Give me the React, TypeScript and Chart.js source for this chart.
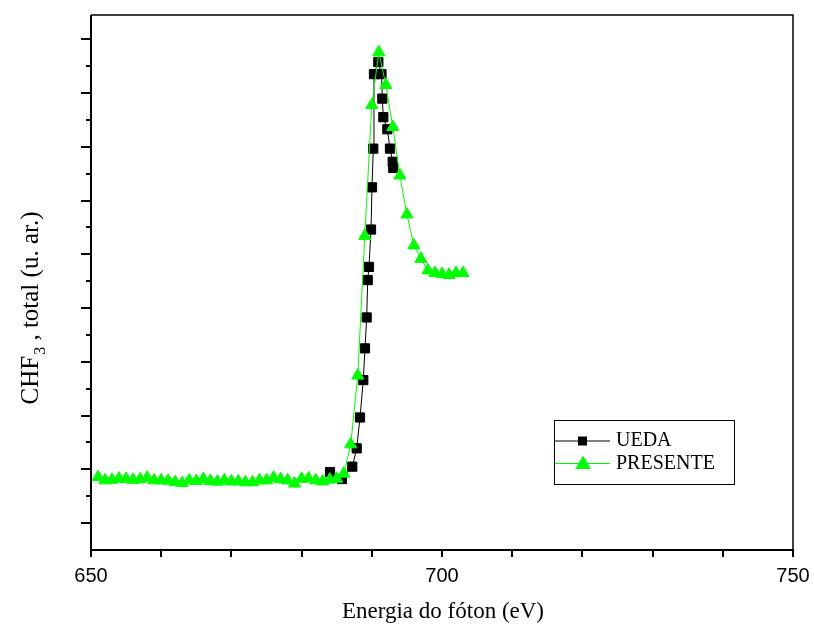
import { useEffect, useRef } from "react";
import { Chart, registerables } from "chart.js";

Chart.register(...registerables);

// UEDA reference spectrum (photon energy in eV, signal in arbitrary units)
const uedaEnergy = [
  684.05, 685.75, 687.22, 687.85, 688.32, 688.79, 689.03, 689.27, 689.42, 689.6, 689.89,
  690.03, 690.21, 690.31, 690.93, 691.38, 691.5, 691.64, 692.21, 692.59, 692.98, 693.06,
];
const uedaSignal = [
  2.9, 2.64, 3.1, 3.78, 4.93, 6.32, 7.5, 8.65, 10.04, 10.53, 11.92,
  13.49, 14.93, 17.7, 18.15, 17.7, 16.79, 16.1, 15.65, 14.93, 14.44, 14.21,
];

// Present work
const presenteEnergy = [
  651, 652, 653, 654, 655, 656, 657, 658, 659, 660,
  661, 662, 663, 664, 665, 666, 667, 668, 669, 670,
  671, 672, 673, 674, 675, 676, 677, 678, 679, 680,
  681, 682, 683, 684, 685, 686, 687, 688, 689, 690,
  691, 692, 693, 694, 695, 696, 697, 698, 699, 700,
  701, 702, 703,
];
const presenteSignal = [
  2.71, 2.59, 2.61, 2.66, 2.64, 2.61, 2.63, 2.69, 2.59, 2.59,
  2.58, 2.52, 2.49, 2.59, 2.57, 2.64, 2.57, 2.54, 2.59, 2.55,
  2.55, 2.52, 2.52, 2.59, 2.59, 2.69, 2.63, 2.59, 2.47, 2.65,
  2.66, 2.59, 2.55, 2.62, 2.65, 2.84, 3.93, 6.49, 11.68, 16.55,
  18.51, 17.3, 15.73, 13.93, 12.48, 11.33, 10.83, 10.4, 10.3, 10.27,
  10.23, 10.3, 10.3,
];

const xMin = 650;
const xMax = 750;
const yMin = 0;
const yMax = 19.9;

const xTickValues = [650, 660, 670, 680, 690, 700, 710, 720, 730, 740, 750];
const xTickLabels = ["650", "700", "750"];
const xLabelValues = [650, 700, 750];
const yMajorTicks = [1, 3, 5, 7, 9, 11, 13, 15, 17, 19];
const yMinorTicks = [2, 4, 6, 8, 10, 12, 14, 16, 18];

const xTitle = "Energia do fóton (eV)";
const yTitleMain = "CHF";
const yTitleSub = "3";
const yTitleRest = " , total (u. ar.)";
const legendLabels = ["UEDA", "PRESENTE"];

const GREEN = "#00ff00";
const SERIF = "'Liberation Serif', 'Times New Roman', serif";
const SANS = "'Liberation Sans', Arial, sans-serif";

const axesPlugin = {
  id: "originAxes",
  afterDatasetsDraw(chart: any) {
    const { ctx, chartArea: a, scales } = chart;
    const xs = scales.x;
    const ys = scales.y;
    ctx.save();
    ctx.strokeStyle = "#000";
    ctx.fillStyle = "#000";

    // box: thin top/right, heavier left/bottom
    ctx.lineWidth = 1.5;
    ctx.beginPath();
    ctx.moveTo(a.left, a.top);
    ctx.lineTo(a.right, a.top);
    ctx.lineTo(a.right, a.bottom);
    ctx.stroke();
    ctx.lineWidth = 2;
    ctx.beginPath();
    ctx.moveTo(a.left, a.top);
    ctx.lineTo(a.left, a.bottom + 7);
    ctx.moveTo(a.left - 1, a.bottom);
    ctx.lineTo(a.right + 1, a.bottom);
    ctx.stroke();

    // x ticks (outside)
    ctx.lineWidth = 2;
    ctx.beginPath();
    for (const v of xTickValues) {
      const px = Math.round(xs.getPixelForValue(v));
      ctx.moveTo(px, a.bottom);
      ctx.lineTo(px, a.bottom + 7);
    }
    ctx.stroke();

    // y ticks (outside), major longer than minor
    ctx.beginPath();
    for (const v of yMajorTicks) {
      const py = Math.round(ys.getPixelForValue(v));
      ctx.moveTo(a.left - 10, py);
      ctx.lineTo(a.left, py);
    }
    for (const v of yMinorTicks) {
      const py = Math.round(ys.getPixelForValue(v));
      ctx.moveTo(a.left - 5, py);
      ctx.lineTo(a.left, py);
    }
    ctx.stroke();

    // x tick labels
    ctx.font = `20px ${SANS}`;
    ctx.textAlign = "center";
    ctx.textBaseline = "middle";
    xLabelValues.forEach((v, i) => {
      ctx.fillText(xTickLabels[i], xs.getPixelForValue(v), a.bottom + 26);
    });

    // x title
    ctx.font = `23px ${SERIF}`;
    ctx.fillText(xTitle, (a.left + a.right) / 2 + 1, a.bottom + 62);

    // y title with subscript
    ctx.save();
    ctx.translate(38, 308);
    ctx.rotate(-Math.PI / 2);
    ctx.textAlign = "left";
    ctx.textBaseline = "alphabetic";
    const mainFont = `25px ${SERIF}`;
    const subFont = `16px ${SERIF}`;
    ctx.font = mainFont;
    const w1 = ctx.measureText(yTitleMain).width;
    const w3 = ctx.measureText(yTitleRest).width;
    ctx.font = subFont;
    const w2 = ctx.measureText(yTitleSub).width;
    const total = w1 + w2 + 1 + w3;
    let x0 = -total / 2;
    ctx.font = mainFont;
    ctx.fillText(yTitleMain, x0, 0);
    x0 += w1 + 1;
    ctx.font = subFont;
    ctx.fillText(yTitleSub, x0, 7);
    x0 += w2;
    ctx.font = mainFont;
    ctx.fillText(yTitleRest, x0, 0);
    ctx.restore();

    // legend
    const lx = 554;
    const ly = 420;
    ctx.lineWidth = 1;
    ctx.strokeStyle = "#000";
    ctx.strokeRect(lx + 0.5, ly + 0.5, 180, 64);
    const rows = [ly + 21, ly + 43.5];
    // UEDA row
    ctx.beginPath();
    ctx.moveTo(lx + 1, rows[0]);
    ctx.lineTo(lx + 56, rows[0]);
    ctx.stroke();
    ctx.fillRect(lx + 24, rows[0] - 4.5, 9, 9);
    // PRESENTE row
    ctx.strokeStyle = GREEN;
    ctx.beginPath();
    ctx.moveTo(lx + 1, rows[1]);
    ctx.lineTo(lx + 56, rows[1]);
    ctx.stroke();
    ctx.fillStyle = GREEN;
    ctx.beginPath();
    const cx = lx + 29;
    const cy = rows[1] + 1;
    const r = 9;
    ctx.moveTo(cx, cy - r);
    ctx.lineTo(cx + r * 0.866, cy + r * 0.5);
    ctx.lineTo(cx - r * 0.866, cy + r * 0.5);
    ctx.closePath();
    ctx.fill();
    ctx.fillStyle = "#000";
    ctx.font = `20px ${SERIF}`;
    ctx.textAlign = "left";
    ctx.textBaseline = "middle";
    ctx.fillText(legendLabels[0], lx + 62, rows[0]);
    ctx.fillText(legendLabels[1], lx + 62, rows[1]);

    ctx.restore();
  },
};

export default function App() {
  const canvasRef = useRef<HTMLCanvasElement | null>(null);

  useEffect(() => {
    document.body.style.margin = "0";
    const canvas = canvasRef.current;
    if (!canvas) return;

    const chart = new Chart(canvas, {
      type: "scatter",
      data: {
        datasets: [
          {
            label: legendLabels[1],
            data: presenteEnergy.map((e, i) => ({ x: e, y: presenteSignal[i] })),
            showLine: true,
            borderColor: GREEN,
            borderWidth: 1,
            backgroundColor: GREEN,
            pointStyle: "triangle",
            pointRadius: 7,
            pointBorderWidth: 1,
            pointBorderColor: GREEN,
            pointBackgroundColor: GREEN,
            order: 0,
          },
          {
            label: legendLabels[0],
            data: uedaEnergy.map((e, i) => ({ x: e, y: uedaSignal[i] })),
            showLine: true,
            borderColor: "#000",
            borderWidth: 1,
            backgroundColor: "#000",
            pointStyle: "rect",
            pointRadius: 6.5,
            pointBorderWidth: 1,
            pointBorderColor: "#000",
            pointBackgroundColor: "#000",
            order: 1,
          },
        ],
      },
      options: {
        responsive: false,
        animation: false,
        events: [],
        layout: { padding: { left: 91, right: 21, top: 15, bottom: 80 } },
        plugins: {
          legend: { display: false },
          tooltip: { enabled: false },
        },
        scales: {
          x: { type: "linear", min: xMin, max: xMax, display: false },
          y: { type: "linear", min: yMin, max: yMax, display: false },
        },
      },
      plugins: [axesPlugin],
    });

    return () => chart.destroy();
  }, []);

  return (
    <div style={{ width: 814, height: 630, background: "#fff" }}>
      <canvas ref={canvasRef} width={814} height={630} style={{ display: "block" }} />
    </div>
  );
}
